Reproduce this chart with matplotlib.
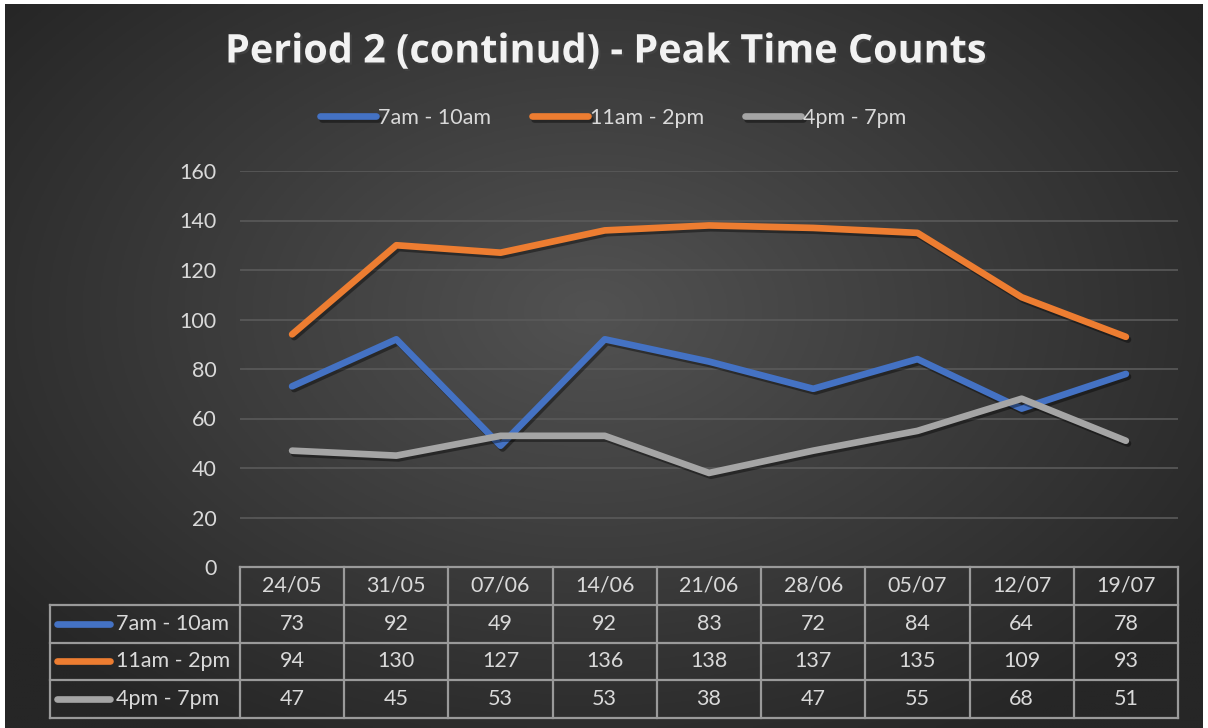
"""Period 2 (continued) peak time counts: line chart with a data table underneath."""

import matplotlib
matplotlib.use("Agg")
import matplotlib.pyplot as plt
import matplotlib.patheffects as pe
import matplotlib.transforms as mtransforms
import numpy as np

# ---------------------------------------------------------------------------
# Data
# ---------------------------------------------------------------------------
weeks = ["24/05", "31/05", "07/06", "14/06", "21/06", "28/06", "05/07", "12/07", "19/07"]
morning = [73, 92, 49, 92, 83, 72, 84, 64, 78]
midday = [94, 130, 127, 136, 138, 137, 135, 109, 93]
evening = [47, 45, 53, 53, 38, 47, 55, 68, 51]
series_names = ["7am - 10am", "11am - 2pm", "4pm - 7pm"]
y_ticks = [0, 20, 40, 60, 80, 100, 120, 140, 160]

BLUE = "#4472C4"
ORANGE = "#ED7D31"
GREY = "#A5A5A5"
TEXT = "#D9D9D9"
BORDER = "#9A9A9A"
GRID = "#5A5A5A"
FS = 15.5

plt.rcParams["font.family"] = ["Lato", "DejaVu Sans"]

W, H = 1208, 728
fig = plt.figure(figsize=(W / 100, H / 100), dpi=100, facecolor="white")

# radial gradient background (leaves a thin white frame like the original)
bg = fig.add_axes([5 / W, 0, (1203 - 5) / W, (728 - 4) / H])
bg.set_axis_off()
gx, gy = np.meshgrid(np.linspace(-1, 1, 400), np.linspace(-1, 1, 240))
r = np.clip(np.sqrt(((gx + 0.02) / 1.0) ** 2 + ((gy + 0.15) / 1.1) ** 2) / 1.25, 0, 1)
light = np.array([0x52, 0x52, 0x52]) / 255
dark = np.array([0x26, 0x26, 0x26]) / 255
img = light[None, None, :] * (1 - r[..., None]) + dark[None, None, :] * r[..., None]
bg.imshow(img, aspect="auto", extent=[0, 1, 0, 1], origin="upper")
bg.set_xlim(0, 1)
bg.set_ylim(0, 1)

# plot area
left, right, top, bottom = 240, 1178, 171, 567
ax = fig.add_axes([left / W, 1 - bottom / H, (right - left) / W, (bottom - top) / H])
ax.set_facecolor("none")

x = np.arange(len(weeks))
shadow = [pe.SimpleLineShadow(offset=(1.5, -2), alpha=0.4, shadow_color="black"), pe.Normal()]
for vals, col, name in zip([morning, midday, evening], [BLUE, ORANGE, GREY], series_names):
    ax.plot(x, vals, color=col, lw=4.8, solid_capstyle="round", solid_joinstyle="round",
            label=name, path_effects=shadow, zorder=3)

ax.set_xlim(-0.5, len(weeks) - 0.5)
ax.set_ylim(0, 160)
ax.set_yticks(y_ticks)
ax.set_yticklabels([str(v) for v in y_ticks], color=TEXT, fontsize=FS)
ax.tick_params(axis="y", length=0, pad=17)
ax.set_xticks([])
ax.grid(axis="y", color=GRID, lw=1.2)
ax.set_axisbelow(True)
for s in ax.spines.values():
    s.set_visible(False)

# ---------------------------------------------------------------------------
# Data table below the plot
# ---------------------------------------------------------------------------
trans = mtransforms.blended_transform_factory(ax.transData, ax.transAxes)
row_h = 37.75 / (bottom - top)
key_left = -0.5 - (240 - 50) / ((right - left) / len(weeks))
n_rows = 4
line_kw = dict(color=BORDER, lw=1.6, transform=trans, clip_on=False, zorder=2)

# horizontal borders
ax.plot([-0.5, len(weeks) - 0.5], [0, 0], **line_kw)
for i in range(1, n_rows + 1):
    ax.plot([key_left, len(weeks) - 0.5], [-i * row_h, -i * row_h], **line_kw)
# vertical borders
for j in range(len(weeks) + 1):
    ax.plot([j - 0.5, j - 0.5], [0, -n_rows * row_h], **line_kw)
ax.plot([key_left, key_left], [-row_h, -n_rows * row_h], **line_kw)

for j, wk in enumerate(weeks):
    ax.text(j, -0.5 * row_h, wk, transform=trans, ha="center", va="center",
            color=TEXT, fontsize=FS)
for i, (vals, col, name) in enumerate(zip([morning, midday, evening], [BLUE, ORANGE, GREY],
                                           series_names)):
    yc = -(i + 1.5) * row_h
    for j, v in enumerate(vals):
        ax.text(j, yc, str(v), transform=trans, ha="center", va="center",
                color=TEXT, fontsize=FS)
    ax.plot([key_left + 0.07, key_left + 0.58], [yc, yc], color=col, lw=4.8,
            solid_capstyle="round", transform=trans, clip_on=False, zorder=3)
    ax.text(key_left + 0.63, yc, name, transform=trans, ha="left", va="center",
            color=TEXT, fontsize=FS)

# ---------------------------------------------------------------------------
# Title and legend
# ---------------------------------------------------------------------------
fig.text(606 / W, 1 - 52 / H, "Period 2 (continud) - Peak Time Counts", ha="center",
         va="center", fontsize=28.5, fontweight="bold", color="#F2F2F2",
         family=["Open Sans", "DejaVu Sans"],
         path_effects=[pe.SimplePatchShadow(offset=(1.5, -1.5), alpha=0.6), pe.Normal()])

fig.legend(loc="center", bbox_to_anchor=(613 / W, 1 - 118 / H), ncol=3, frameon=False,
           fontsize=FS, labelcolor=TEXT, handlelength=2.6, handletextpad=0.1,
           columnspacing=1.9)

fig.savefig("out.png", dpi=100, facecolor="white")
